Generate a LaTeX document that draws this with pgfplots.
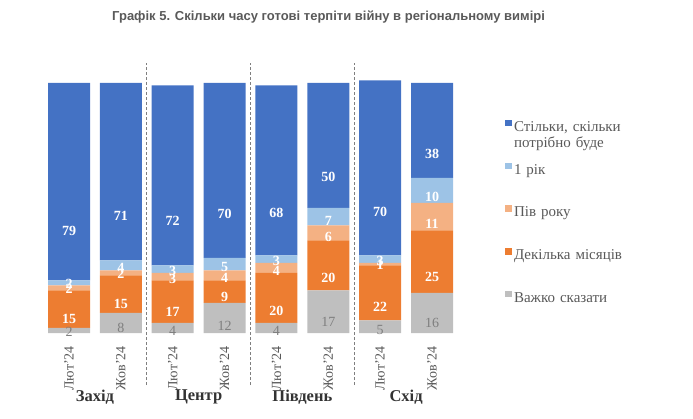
\documentclass[border=0pt]{standalone}
\usepackage{pgfplots}
\pgfplotsset{compat=1.18}
\usepackage{fontspec}
\setmainfont{Liberation Serif}
\newfontfamily\titlefont{Liberation Sans}
\definecolor{cBlue}{HTML}{4472C4}
\definecolor{cLBlue}{HTML}{9DC3E6}
\definecolor{cLOrange}{HTML}{F4B183}
\definecolor{cOrange}{HTML}{ED7D31}
\definecolor{cGray}{HTML}{BFBFBF}
\definecolor{cText}{HTML}{595959}
\definecolor{cLab}{HTML}{7F7F7F}
\definecolor{cDark}{HTML}{333333}
\pgfplotsset{
  myleg/.style={legend image code/.code={\fill[##1] (0bp,0bp) rectangle (6.5bp,6.5bp);}},
}
\begin{document}
\begin{tikzpicture}
\useasboundingbox (0,0) rectangle (693bp,419bp);
\begin{axis}[
  at={(43.07bp,86bp)}, anchor=south west,
  scale only axis, width=414.88bp, height=250bp,
  xmin=-0.5, xmax=7.5, ymin=0, ymax=100,
  ybar stacked, bar width=42bp,
  clip=false,
  /pgf/number format/assume math mode=true,
  axis line style={draw=none},
  major tick length=0pt,
  ytick=\empty,
  xtick={0,...,7},
  xticklabels={Лют'24,Жов'24,Лют'24,Жов'24,Лют'24,Жов'24,Лют'24,Жов'24},
  xticklabel style={rotate=90, anchor=east, inner sep=0pt, font=\fontsize{14bp}{16bp}\selectfont, text=cText},
  xticklabel shift=13bp,
  nodes near coords,
  visualization depends on=rawy \as \rawy,
  every node near coord/.append style={anchor=center, inner sep=0pt, shift={(axis direction cs:0,-\rawy/4)}, font=\fontsize{14bp}{16bp}\selectfont\bfseries, text=white},
  legend cell align=left,
  reverse legend,
  legend style={at={(axis description cs:1.1134,0.852)}, anchor=north west, draw=none, fill=none,
    inner sep=0pt, outer sep=0pt, row sep=31.2bp, column sep=2.5bp,
    font=\fontsize{15bp}{16.5bp}\selectfont, text=cText,
    nodes={text width=160bp, align=left, inner sep=0pt, text depth=0pt, text height=10bp}},
]
\addplot+[myleg, fill=cGray, draw=none, every node near coord/.append style={font=\fontsize{14bp}{16bp}\selectfont, text=cLab}] coordinates {(0,2) (1,8) (2,4) (3,12) (4,4) (5,17) (6,5) (7,16)};
\addlegendentry{Важко сказати}
\addplot+[myleg, fill=cOrange, draw=none] coordinates {(0,15) (1,15) (2,17) (3,9) (4,20) (5,20) (6,22) (7,25)};
\addlegendentry{Декілька місяців}
\addplot+[myleg, fill=cLOrange, draw=none] coordinates {(0,2) (1,2) (2,3) (3,4) (4,4) (5,6) (6,1) (7,11)};
\addlegendentry{Пів року}
\addplot+[myleg, fill=cLBlue, draw=none] coordinates {(0,2) (1,4) (2,3) (3,5) (4,3) (5,7) (6,3) (7,10)};
\addlegendentry{1 рік}
\addplot+[myleg, fill=cBlue, draw=none] coordinates {(0,79) (1,71) (2,72) (3,70) (4,68) (5,50) (6,70) (7,38)};
\addlegendentry{Стільки, скільки\\потрібно буде}
\draw[color=cLab, dash pattern=on 3bp off 2bp, line width=0.9bp] (axis cs:1.5,-20.8) -- (axis cs:1.5,108);
\draw[color=cLab, dash pattern=on 3bp off 2bp, line width=0.9bp] (axis cs:3.5,-20.8) -- (axis cs:3.5,108);
\draw[color=cLab, dash pattern=on 3bp off 2bp, line width=0.9bp] (axis cs:5.5,-20.8) -- (axis cs:5.5,108);
\node[font=\fontsize{16.5bp}{18bp}\selectfont\bfseries, text=cDark] at (axis cs:0.5,-25.6) {Захід};
\node[font=\fontsize{16.5bp}{18bp}\selectfont\bfseries, text=cDark] at (axis cs:2.5,-25.6) {Центр};
\node[font=\fontsize{16.5bp}{18bp}\selectfont\bfseries, text=cDark] at (axis cs:4.5,-25.6) {Південь};
\node[font=\fontsize{16.5bp}{18bp}\selectfont\bfseries, text=cDark] at (axis cs:6.5,-25.6) {Схід};
\node[anchor=west, inner sep=0pt, font=\titlefont\fontsize{13bp}{15bp}\selectfont\bfseries, text=cText] at (axis cs:0.829,126.4) {Графік 5. Скільки часу готові терпіти війну в регіональному вимірі};
\end{axis}
\end{tikzpicture}
\end{document}
